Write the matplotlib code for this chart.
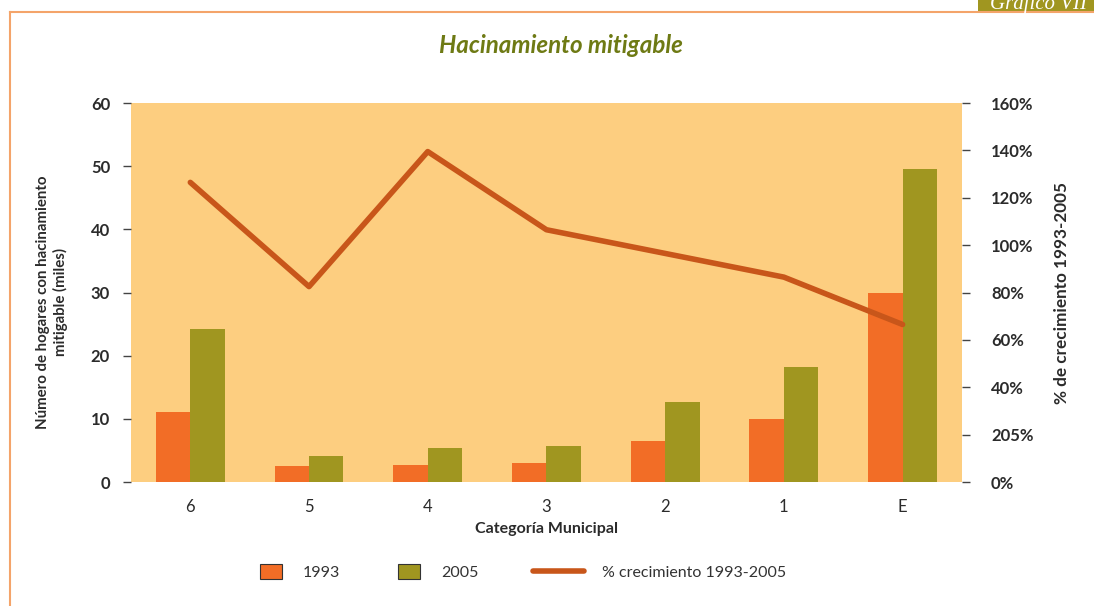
import numpy as np
import matplotlib
matplotlib.use("Agg")
import matplotlib.pyplot as plt
from matplotlib.patches import Rectangle
from matplotlib.lines import Line2D

plt.rcParams['font.family'] = ['Lato', 'DejaVu Sans']

# datos
categorias = ['6', '5', '4', '3', '2', '1', 'E']
hogares_1993 = [11.1, 2.5, 2.7, 3.0, 6.5, 10.0, 29.9]
hogares_2005 = [24.2, 4.1, 5.4, 5.7, 12.7, 18.2, 49.5]
crecimiento = [126.5, 82.5, 139.5, 106.5, 96.5, 86.5, 66.5]
ticks_izq = [0, 10, 20, 30, 40, 50, 60]
ticks_der = [0, 20, 40, 60, 80, 100, 120, 140, 160]
etiquetas_der = ['0%', '205%', '40%', '60%', '80%', '100%', '120%', '140%', '160%']

c_fondo = '#FDCE80'
c_1993 = '#F26D26'
c_2005 = '#A09620'
c_linea = '#C8561A'
c_texto = '#2b2b2b'

fig = plt.figure(figsize=(10.94, 6.06), dpi=100)
ax = fig.add_axes([0.1197, 0.2046, 0.7596, 0.6254])
ax.set_facecolor(c_fondo)

x = np.arange(len(categorias))
w = 0.29
ax.bar(x - w / 2, hogares_1993, w, color=c_1993, zorder=2)
ax.bar(x + w / 2, hogares_2005, w, color=c_2005, zorder=2)
ax.set_xlim(-0.5, 6.5)
ax.set_ylim(0, 60)
ax.set_yticks(ticks_izq)
ax.set_xticks(x)
ax.set_xticklabels(categorias, fontsize=12, color=c_texto)
for s in ax.spines.values():
    s.set_visible(False)
ax.tick_params(axis='y', length=6, width=1, color='#444444', pad=9,
               labelsize=12, labelcolor=c_texto)
ax.tick_params(axis='x', length=0, pad=12)
for t in ax.get_yticklabels():
    t.set_fontweight('bold')
ax.set_xlabel('Categoría Municipal', fontsize=11.5, fontweight='bold',
              color=c_texto, labelpad=5)
ax.set_ylabel('Número de hogares con hacinamiento\nmitigable (miles)',
              fontsize=10.8, fontweight='bold', color=c_texto)
ax.yaxis.set_label_coords(-0.076, 0.475)

ax2 = ax.twinx()
ax2.plot(x, crecimiento, color=c_linea, lw=4, solid_capstyle='round', zorder=3)
ax2.set_ylim(0, 160)
ax2.set_yticks(ticks_der)
ax2.set_yticklabels(etiquetas_der)
for s in ax2.spines.values():
    s.set_visible(False)
ax2.tick_params(axis='y', length=6, width=1, color='#444444', pad=15,
                labelsize=12, labelcolor=c_texto)
for t in ax2.get_yticklabels():
    t.set_fontweight('bold')
ax2.set_ylabel('% de crecimiento 1993-2005', fontsize=12.3, fontweight='bold',
               color=c_texto, labelpad=15)

ax.set_title('Hacinamiento mitigable', fontsize=17.4, fontweight='bold',
             style='italic', color='#6E7A14', pad=36, x=0.518)

# leyenda (una por entrada para ajustar posiciones)
leg_y = 1 - 572 / 606
entradas = [
    (Rectangle((0, 0), 1, 1, facecolor=c_1993, edgecolor='#333333', lw=0.8), '1993', 260, 1.4, 1.3),
    (Rectangle((0, 0), 1, 1, facecolor=c_2005, edgecolor='#333333', lw=0.8), '2005', 398, 1.4, 1.3),
    (Line2D([], [], color=c_linea, lw=4, solid_capstyle='round'), '% crecimiento 1993-2005', 533, 3.2, 1.1),
]
for h, lab, px, hl, tp in entradas:
    leg = fig.legend([h], [lab], loc='center left', bbox_to_anchor=(px / 1094, leg_y),
                     frameon=False, fontsize=11.5, handlelength=hl, handleheight=1.05,
                     handletextpad=tp, borderpad=0, borderaxespad=0,
                     labelcolor='#333333')

# marco de la página
fig.add_artist(Line2D([0.009, 0.009], [0, 0.98], color='#F4A46A', lw=1.5,
                      transform=fig.transFigure))
fig.add_artist(Line2D([0.009, 1], [0.98, 0.98], color='#F4A46A', lw=1.5,
                      transform=fig.transFigure))
fig.add_artist(Rectangle((0.894, 0.981), 0.106, 0.02, facecolor=c_2005,
                         edgecolor='none', transform=fig.transFigure))
fig.text(0.905, 0.993, 'Gráfico VII', fontsize=15, style='italic',
         color='white', va='center', family=['Liberation Serif', 'DejaVu Serif'])

fig.savefig('out.png', dpi=100)
